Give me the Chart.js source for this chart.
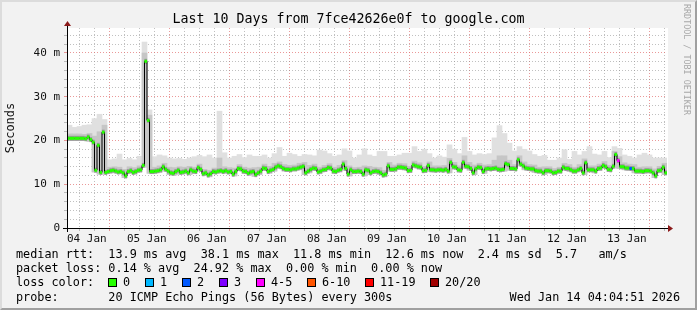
<!DOCTYPE html>
<html><head><meta charset="utf-8">
<script src="https://cdn.jsdelivr.net/npm/chart.js@4.4.1/dist/chart.umd.min.js"></script>
<style>
html,body{margin:0;padding:0;}
body{width:697px;height:310px;position:relative;overflow:hidden;background:#f2f2f2;font-family:"DejaVu Sans Mono",monospace;color:#000;}
#frame{position:absolute;left:0;top:0;width:697px;height:310px;box-sizing:border-box;border-top:2px solid #dcdcdc;border-left:2px solid #dcdcdc;border-right:2px solid #a0a0a0;border-bottom:2px solid #a0a0a0;}
#c{position:absolute;left:0;top:0;}
.t{position:absolute;white-space:pre;font-size:11.8px;line-height:14px;}
#title{position:absolute;left:0;width:697px;top:11px;text-align:center;font-size:13.3px;line-height:16px;white-space:pre;}
#wm{position:absolute;left:682px;top:4px;writing-mode:vertical-rl;font-size:8.4px;line-height:10px;color:#a8a8a8;white-space:pre;}
.box{position:absolute;width:7px;height:7px;border:1px solid #000;top:278px;}
</style></head>
<body>
<div id="frame"></div>
<canvas id="c" width="697" height="310"></canvas>
<div id="title">Last 10 Days from 7fce42626e0f to google.com</div>
<div id="wm">RRDTOOL / TOBI OETIKER</div>

<div class="t" style="left:16px;top:247px">median rtt:  13.9 ms avg  38.1 ms max  11.8 ms min  12.6 ms now  2.4 ms sd  5.7   am/s</div>
<div class="t" style="left:16px;top:261px">packet loss: 0.14 % avg  24.92 % max  0.00 % min  0.00 % now</div>
<div class="t" style="left:16px;top:275px">loss color:</div>
<div id="lossLegend"></div>
<div class="t" style="left:16px;top:290px">probe:       20 ICMP Echo Pings (56 Bytes) every 300s</div>
<div class="t" style="right:17px;top:290px">Wed Jan 14 04:04:51 2026</div>

<script>
// ---- data ----
const startHour = 4.081;   // Jan 4 04:04:51, hours since Jan 4 00:00
const spanHours = 240;
const dayLabels = ['04 Jan','05 Jan','06 Jan','07 Jan','08 Jan','09 Jan','10 Jan','11 Jan','12 Jan','13 Jan'];
const yMax = 45.71;

// hourly median rtt (ms)
const medianRtt = [
 20.5,20.5,20.5,20.5,20.5,20.5,20.5,20.4,20.8,20.2,
 19.6,13.2,18.9,12.7,21.9,12.7,12.9,13.1,13.2,13.0,
 12.8,12.9,12.6,11.9,12.9,13.1,12.7,12.9,13.2,13.3,
 14.3,38.1,24.6,12.9,12.9,13.0,13.1,13.3,14.0,13.4,
 13.0,12.6,12.5,12.9,13.2,12.7,12.8,13.0,12.6,13.3,
 13.0,12.9,13.8,13.4,12.4,12.6,12.1,12.4,12.9,12.8,
 13.0,13.1,12.9,13.1,12.8,12.9,12.3,12.9,13.6,13.5,
 13.0,12.9,12.5,12.8,12.9,12.2,12.6,13.0,13.7,13.6,
 12.9,13.2,13.4,13.9,14.2,14.0,13.6,13.4,13.4,13.3,
 13.5,13.5,13.7,13.9,14.1,12.6,13.0,13.4,13.7,13.6,
 12.8,13.0,13.3,13.4,13.8,13.7,13.0,12.9,13.2,13.4,
 14.6,13.6,12.3,13.3,12.9,12.9,13.0,12.9,12.3,13.3,
 13.2,12.6,12.9,13.0,12.9,12.6,12.1,12.3,14.2,13.4,
 13.4,13.5,13.9,13.9,13.8,13.7,13.1,13.2,14.4,14.2,
 14.0,13.9,13.1,13.2,14.3,13.3,13.3,13.2,13.3,13.3,
 13.2,13.4,13.0,15.0,14.0,13.9,13.3,13.2,15.0,14.1,
 14.0,13.6,12.6,13.5,13.9,13.8,12.9,13.5,13.6,13.5,
 13.6,13.7,13.4,13.3,13.4,14.7,14.5,13.6,13.6,13.5,
 15.6,14.6,14.2,13.7,13.6,13.5,13.5,13.1,13.0,13.0,
 12.6,13.1,13.1,13.0,12.6,12.7,13.0,13.0,13.9,13.6,
 13.6,13.3,13.0,13.0,13.3,13.6,12.6,14.9,13.3,13.3,
 13.3,13.0,13.6,13.7,14.3,14.0,13.4,13.3,14.1,16.8,
 15.4,14.0,14.0,13.7,13.7,13.6,13.6,13.0,13.0,13.0,
 12.9,13.1,13.1,13.0,12.6,11.9,13.1,13.2,13.9,12.6
];
// hours with packet loss: [hour index, lost pings]
const lossEvents = [[220, 5], [225, 2]];

// smoke (2-hour bins): lower edge, middle band top, outer top (ms)
const smokeLow = [
 20.0,20.0,20.0,20.0,19.8,12.8,12.3,12.3,12.5,12.6,
 12.4,11.5,12.5,12.3,12.8,13.9,12.5,12.5,12.7,13.0,
 12.2,12.1,12.3,12.4,12.2,12.5,13.0,12.0,11.7,12.4,
 12.6,12.5,12.4,11.9,13.1,12.5,12.1,11.8,12.2,13.2,
 12.5,13.0,13.6,13.0,12.9,13.1,13.3,12.2,12.6,13.2,
 12.4,12.9,13.3,12.5,12.8,13.2,11.9,12.5,12.5,11.9,
 12.2,12.5,12.2,11.7,13.0,13.0,13.4,13.3,12.7,13.8,
 13.5,12.7,12.9,12.8,12.9,12.8,12.6,13.5,12.8,13.7,
 13.2,12.2,13.4,12.5,13.1,13.2,12.9,13.0,13.2,13.1,
 14.2,13.3,13.1,12.7,12.6,12.2,12.6,12.2,12.6,13.2,
 12.9,12.6,12.9,12.2,12.9,12.6,13.2,13.6,12.9,13.7,
 13.6,13.3,13.2,12.6,12.6,12.5,12.6,11.5,12.7,12.2
];
const smokeMid = [
 21.5,21.5,21.5,21.4,21.6,21.0,22.0,23.5,13.9,14.0,
 13.9,13.4,14.0,13.8,14.2,40.0,25.8,13.9,14.2,14.8,
 13.9,13.8,14.0,13.9,14.1,13.9,14.6,13.4,13.2,13.7,
 16.0,14.0,13.8,13.7,14.5,13.9,13.7,13.8,13.9,14.6,
 14.1,14.8,15.1,14.5,14.3,14.4,14.8,15.0,14.3,14.6,
 13.9,14.3,14.7,13.9,14.3,15.4,14.2,13.8,13.9,14.2,
 14.1,13.9,13.8,13.2,15.0,14.4,14.8,14.7,14.1,15.3,
 14.9,14.1,15.1,14.2,14.2,14.3,15.9,15.0,14.2,16.5,
 15.0,14.4,14.8,14.4,14.5,15.5,16.5,16.5,15.5,14.5,
 16.5,15.1,14.5,14.4,13.9,14.0,14.0,13.6,13.9,14.8,
 14.5,13.9,14.5,15.8,14.2,14.2,14.6,15.2,14.3,17.5,
 16.3,14.9,14.6,14.5,13.9,14.0,14.0,13.5,14.1,14.8
];
const smokeTop = [
 23.5,23.0,23.2,23.5,23.6,25.0,26.0,24.8,15.6,15.8,
 16.9,15.6,15.9,15.6,16.4,42.5,27.0,16.3,16.7,16.5,
 16.0,15.8,15.9,15.7,16.0,16.3,16.6,16.3,16.7,16.0,
 26.7,17.2,16.0,16.4,16.8,16.1,16.7,16.4,16.4,16.7,
 16.0,17.0,18.4,16.4,17.1,16.8,16.4,16.8,16.7,16.5,
 17.8,17.6,17.0,16.4,16.7,18.1,17.6,16.0,16.7,18.1,
 16.7,16.4,17.5,17.5,16.4,16.4,16.7,17.1,17.1,18.6,
 17.5,18.0,17.0,16.0,16.5,16.2,19.0,18.0,17.0,20.7,
 17.5,16.7,17.0,16.8,17.0,20.6,23.4,21.6,19.4,17.6,
 18.6,18.0,17.6,16.8,16.4,16.6,15.5,15.5,16.0,17.9,
 15.7,17.5,16.7,17.5,18.6,16.9,16.7,17.5,16.1,18.6,
 18.2,16.7,16.4,16.0,16.7,17.1,16.7,16.0,16.0,16.0
];

// loss legend
const lossLabels = ['0','1','2','3','4-5','6-10','11-19','20/20'];
const lossColors = ['#26ff00','#00b8ff','#0059ff','#7e00ff','#ff00ff','#ff5500','#ff0000','#a10000'];
const lossBoxX = [108,145,182,219,256,307,365,430];

// ---- build ----
const lossLegend = document.getElementById('lossLegend');
lossLabels.forEach((lab, i) => {
  const b = document.createElement('div');
  b.className = 'box'; b.style.left = lossBoxX[i] + 'px'; b.style.background = lossColors[i];
  lossLegend.appendChild(b);
  const t = document.createElement('div');
  t.className = 't'; t.style.left = (lossBoxX[i] + 15) + 'px'; t.style.top = '275px'; t.textContent = lab;
  lossLegend.appendChild(t);
});

function lossColorFor(n) {
  if (n <= 0) return lossColors[0];
  if (n <= 3) return lossColors[n];
  if (n <= 5) return lossColors[4];
  if (n <= 10) return lossColors[5];
  if (n <= 19) return lossColors[6];
  return lossColors[7];
}
const lossByHour = {};
lossEvents.forEach(([h, n]) => { lossByHour[h] = n; });

const medianPts = medianRtt.map((v, k) => ({x: startHour + k + 0.5, y: v}));
const pointColors = medianRtt.map((v, k) => lossColorFor(lossByHour[k] || 0));
const topPts = smokeTop.map((v, j) => ({x: startHour + 2*j + 1, y: [smokeLow[j], v]}));
const midPts = smokeMid.map((v, j) => ({x: startHour + 2*j + 1, y: [smokeLow[j], v]}));

const gridHours = [];
for (let h = 6; h <= startHour + spanHours; h += 6) if (h > startHour) gridHours.push(h);
const yGrid = [];
for (let v = 0; v < yMax; v += 2) yGrid.push(v);

const MAJOR = 'rgba(225,110,110,0.7)';
const MINOR = 'rgba(140,140,140,0.55)';

const deco = {
  id: 'deco',
  beforeDraw(ch) {
    const a = ch.chartArea, c = ch.ctx;
    c.save(); c.fillStyle = '#ffffff';
    c.fillRect(a.left, a.top, a.right - a.left + 1, a.bottom - a.top);
    c.restore();
  },
  afterDraw(ch) {
    const a = ch.chartArea, c = ch.ctx;
    c.save();
    c.strokeStyle = '#000'; c.lineWidth = 1;
    c.beginPath();
    c.moveTo(a.left - 4, a.bottom + 0.5); c.lineTo(a.right + 3, a.bottom + 0.5);
    c.moveTo(a.left + 0.5, a.bottom + 4); c.lineTo(a.left + 0.5, a.top - 4);
    c.stroke();
    c.fillStyle = '#8b1a1a';
    c.beginPath();
    c.moveTo(a.right + 1, a.bottom - 3); c.lineTo(a.right + 6, a.bottom + 0.5); c.lineTo(a.right + 1, a.bottom + 4); c.closePath();
    c.fill();
    c.beginPath();
    c.moveTo(a.left - 3, a.top - 2); c.lineTo(a.left + 0.5, a.top - 7); c.lineTo(a.left + 4, a.top - 2); c.closePath();
    c.fill();
    c.restore();
  }
};

const font11 = {family: 'DejaVu Sans Mono', size: 11};

new Chart(document.getElementById('c'), {
  type: 'line',
  data: {
    datasets: [
      {type: 'line', data: medianPts, showLine: false, pointStyle: 'line', pointRadius: 1.35,
       pointBorderWidth: 3, pointBorderColor: pointColors, pointHoverRadius: 0, order: 0},
      {type: 'line', data: medianPts, stepped: 'middle', borderColor: '#000', borderWidth: 1,
       pointRadius: 0, fill: false, order: 1},
      {type: 'line', data: medianPts, showLine: false, pointStyle: 'line', pointRadius: 1.35,
       pointBorderWidth: 5, pointBorderColor: '#999999', order: 2},
      {type: 'bar', data: midPts, backgroundColor: '#c6c6c6', barPercentage: 1, categoryPercentage: 1,
       grouped: false, borderWidth: 0, order: 3},
      {type: 'bar', data: topPts, backgroundColor: '#e0e0e0', barPercentage: 1, categoryPercentage: 1,
       grouped: false, borderWidth: 0, order: 4}
    ]
  },
  options: {
    responsive: false, animation: false, events: [], devicePixelRatio: 1,
    layout: {padding: {left: 0, right: 30, top: 28, bottom: 42}},
    plugins: {legend: {display: false}, tooltip: {enabled: false}, title: {display: false}},
    scales: {
      x: {
        type: 'linear', min: startHour, max: startHour + spanHours, offset: false,
        afterBuildTicks: s => { s.ticks = gridHours.map(v => ({value: v})); },
        afterFit: s => { s.height = 40; },
        ticks: {autoSkip: false, maxRotation: 0, minRotation: 0, padding: 2, color: '#111', font: font11,
          callback: v => ((v - 12) % 24 === 0 ? dayLabels[(v - 12) / 24] : '')},
        grid: {color: c => (c.tick && c.tick.value % 24 === 0 ? MAJOR : MINOR), lineWidth: 1, tickLength: 3},
        border: {display: false, dash: [1, 2]}
      },
      y: {
        type: 'linear', min: 0, max: yMax,
        afterBuildTicks: s => { s.ticks = yGrid.map(v => ({value: v})); },
        afterFit: s => { s.width = 67; },
        ticks: {autoSkip: false, padding: 4, color: '#111', font: font11,
          callback: v => (v % 10 === 0 ? (v === 0 ? '0' : v + ' m') : '')},
        grid: {color: c => (c.tick && c.tick.value % 10 === 0 ? MAJOR : MINOR), lineWidth: 1, tickLength: 3},
        border: {display: false, dash: [1, 2]},
        title: {display: true, text: 'Seconds', color: '#111', font: {family: 'DejaVu Sans Mono', size: 12},
          padding: {top: 4, bottom: 0}}
      }
    }
  },
  plugins: [deco]
});
</script>
</body></html>
